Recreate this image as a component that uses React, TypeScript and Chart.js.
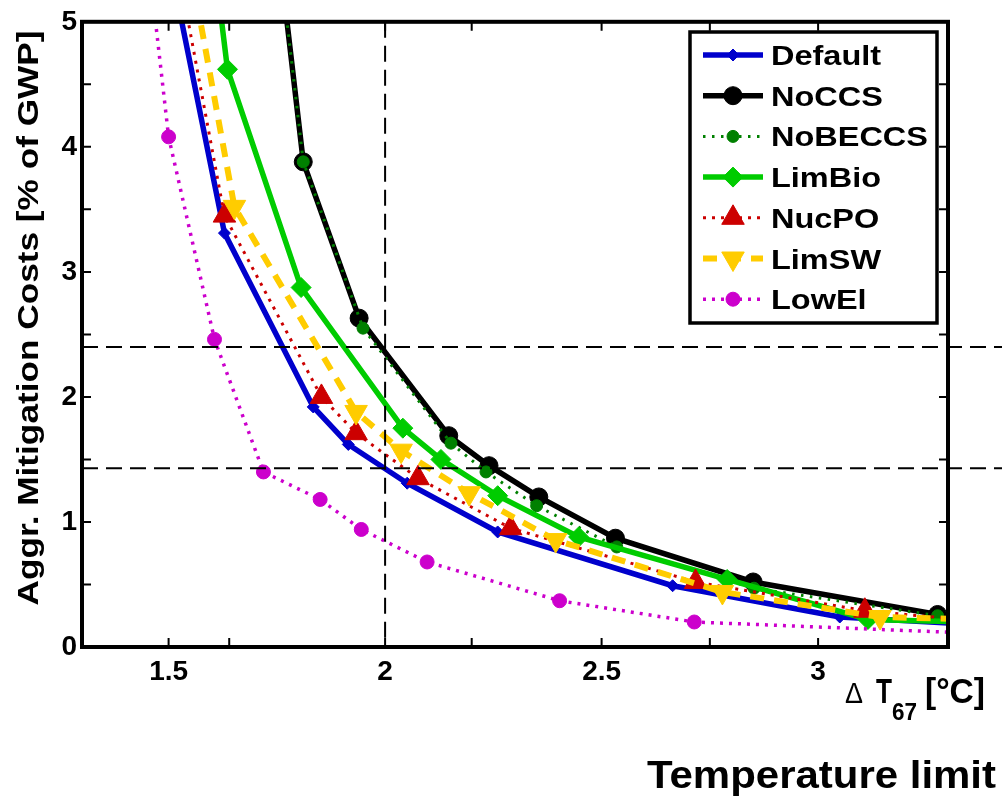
import React, { useEffect, useRef } from "react";
import { Chart, registerables } from "chart.js";
import { drawPoint } from "chart.js/helpers";

Chart.register(...registerables);

// ---------- data (temperature limit ΔT67 [°C] vs aggregated mitigation costs [% of GWP]) ----------
const seriesNames = ["Default", "NoCCS", "NoBECCS", "LimBio", "NucPO", "LimSW", "LowEl"];

const defaultTemp = [1.50, 1.629, 1.834, 1.915, 2.051, 2.26, 2.664, 3.05, 3.36];
const defaultCost = [5.52, 3.31, 1.92, 1.62, 1.31, 0.92, 0.49, 0.24, 0.18];

const noCcsTemp = [1.76, 1.811, 1.94, 2.147, 2.24, 2.355, 2.532, 2.85, 3.276];
const noCcsCost = [5.4, 3.88, 2.63, 1.69, 1.45, 1.2, 0.87, 0.52, 0.26];

const noBeccsTemp = [1.76, 1.811, 1.949, 2.152, 2.233, 2.35, 2.535, 2.852, 3.276];
const noBeccsCost = [5.4, 3.88, 2.55, 1.63, 1.4, 1.13, 0.8, 0.47, 0.25];

const limBioTemp = [1.612, 1.636, 1.806, 2.041, 2.129, 2.26, 2.447, 2.79, 3.115, 3.36];
const limBioCost = [5.3, 4.62, 2.875, 1.75, 1.5, 1.21, 0.88, 0.54, 0.22, 0.2];

const nucPoTemp = [1.505, 1.629, 1.853, 1.933, 2.076, 2.29, 2.717, 3.108, 3.36];
const nucPoCost = [5.75, 3.45, 2.0, 1.71, 1.35, 0.95, 0.52, 0.29, 0.21];

const limSwTemp = [1.555, 1.652, 1.933, 2.037, 2.194, 2.394, 2.779, 3.143, 3.36];
const limSwCost = [5.35, 3.52, 1.88, 1.57, 1.23, 0.855, 0.44, 0.24, 0.22];

const lowElTemp = [1.46, 1.5, 1.606, 1.719, 1.85, 1.945, 2.097, 2.403, 2.714, 3.36];
const lowElCost = [5.3, 4.08, 2.46, 1.4, 1.18, 0.94, 0.68, 0.37, 0.2, 0.11];

const xTickLabels = [1.5, 2, 2.5, 3];
const xTickMarks = [1.5, 1.64, 2, 2.2, 2.5, 2.75, 3];
const yTickLabels = [0, 1, 2, 3, 4, 5];
const yTickMarks = [0, 0.5, 1, 1.5, 2, 2.5, 3, 3.5, 4, 4.5, 5];

const refTemps = [2];
const refCosts = [2.4, 1.43];

// ---------- styles ----------
const styles = [
  { color: "#0000cc", width: 5.5, dash: [] as number[], point: "rectRot", radius: 6, rotation: 0 },
  { color: "#000000", width: 5.5, dash: [], point: "circle", radius: 9, rotation: 0 },
  { color: "#008000", width: 3, dash: [2.5, 6.5], point: "circle", radius: 6, rotation: 0 },
  { color: "#00cc00", width: 5.5, dash: [], point: "rectRot", radius: 10, rotation: 0 },
  { color: "#cc0000", width: 3, dash: [3, 6], point: "triangle", radius: 13, rotation: 0 },
  { color: "#ffcc00", width: 6, dash: [14, 10], point: "triangle", radius: 13, rotation: 180 },
  { color: "#cc00cc", width: 3.5, dash: [3, 6], point: "circle", radius: 7, rotation: 0 },
];

const seriesTemps = [defaultTemp, noCcsTemp, noBeccsTemp, limBioTemp, nucPoTemp, limSwTemp, lowElTemp];
const seriesCosts = [defaultCost, noCcsCost, noBeccsCost, limBioCost, nucPoCost, limSwCost, lowElCost];

const FONT = '"Liberation Sans", Arial, sans-serif';

function drawText(
  ctx: CanvasRenderingContext2D,
  text: string,
  x: number,
  y: number,
  font: string,
  opts: { width?: number; stretch?: number; align?: CanvasTextAlign } = {}
) {
  ctx.save();
  ctx.font = font;
  const w = ctx.measureText(text).width;
  const s = opts.width ? opts.width / w : opts.stretch || 1;
  ctx.translate(x, y);
  ctx.scale(s, 1);
  ctx.textAlign = opts.align || "left";
  ctx.textBaseline = "alphabetic";
  ctx.fillStyle = "#000";
  ctx.fillText(text, 0, 0);
  ctx.restore();
}

const framePlugin = {
  id: "frame",
  afterDatasetsDraw(chart: any) {
    const { ctx, chartArea: a, scales } = chart;
    const x = scales.x;
    const y = scales.y;
    ctx.save();
    // reference dashed lines
    ctx.strokeStyle = "#000";
    ctx.lineWidth = 2;
    ctx.setLineDash([16, 8]);
    refTemps.forEach((t) => {
      const px = x.getPixelForValue(t);
      ctx.beginPath();
      ctx.moveTo(px, a.top);
      ctx.lineTo(px, a.bottom);
      ctx.stroke();
    });
    refCosts.forEach((c) => {
      const py = y.getPixelForValue(c);
      ctx.beginPath();
      ctx.moveTo(a.left, py);
      ctx.lineTo(chart.width, py);
      ctx.stroke();
    });
    ctx.setLineDash([]);
    // inward tick marks
    const tl = 9;
    ctx.lineWidth = 2;
    xTickMarks.forEach((t) => {
      const px = x.getPixelForValue(t);
      ctx.beginPath();
      ctx.moveTo(px, a.bottom);
      ctx.lineTo(px, a.bottom - tl);
      ctx.moveTo(px, a.top);
      ctx.lineTo(px, a.top + tl);
      ctx.stroke();
    });
    yTickMarks.forEach((v) => {
      const py = y.getPixelForValue(v);
      ctx.beginPath();
      ctx.moveTo(a.left, py);
      ctx.lineTo(a.left + tl, py);
      ctx.moveTo(a.right, py);
      ctx.lineTo(a.right - tl, py);
      ctx.stroke();
    });
    // box
    ctx.lineWidth = 4;
    ctx.strokeRect(a.left, a.top, a.right - a.left, a.bottom - a.top);
    ctx.restore();
  },
  afterDraw(chart: any) {
    const { ctx } = chart;
    ctx.save();
    // legend box
    const lx = 690, ly = 32, lw = 247, lh = 291;
    ctx.fillStyle = "#fff";
    ctx.fillRect(lx, ly, lw, lh);
    ctx.strokeStyle = "#000";
    ctx.lineWidth = 3.5;
    ctx.strokeRect(lx, ly, lw, lh);
    const rowStart = 55;
    const rowStep = 40.7;
    chart.data.datasets.forEach((ds: any, i: number) => {
      const ry = rowStart + i * rowStep;
      ctx.save();
      ctx.strokeStyle = ds.borderColor;
      ctx.lineWidth = ds.borderWidth;
      ctx.setLineDash(ds.borderDash || []);
      ctx.beginPath();
      ctx.moveTo(703, ry);
      ctx.lineTo(763, ry);
      ctx.stroke();
      ctx.setLineDash([]);
      ctx.fillStyle = ds.pointBackgroundColor;
      ctx.strokeStyle = ds.pointBorderColor;
      ctx.lineWidth = 1;
      drawPoint(
        ctx,
        { pointStyle: ds.pointStyle, rotation: ds.pointRotation || 0, radius: ds.pointRadius, borderWidth: 1 },
        733,
        ry
      );
      ctx.restore();
      drawText(ctx, ds.label, 771, ry + 10, `bold 28px ${FONT}`, { stretch: 1.16 });
    });
    // y axis title
    ctx.save();
    ctx.translate(38, 318);
    ctx.rotate(-Math.PI / 2);
    drawText(ctx, "Aggr. Mitigation Costs [% of GWP]", 0, 0, `bold 29px ${FONT}`, { width: 575, align: "center" });
    ctx.restore();
    // x axis label
    drawText(ctx, "Δ", 845, 703, `30px ${FONT}`, { width: 18 });
    drawText(ctx, "T", 876, 703, `bold 35px ${FONT}`, { width: 16 });
    drawText(ctx, "67", 892, 720, `bold 24px ${FONT}`, { width: 25 });
    drawText(ctx, "[°C]", 925, 703, `bold 35px ${FONT}`, { width: 60 });
    drawText(ctx, "Temperature limit", 996, 788, `bold 39px ${FONT}`, { width: 349, align: "right" });
    ctx.restore();
  },
};

export default function App() {
  const ref = useRef<HTMLCanvasElement>(null);
  useEffect(() => {
    const datasets = seriesNames.map((name, i) => {
      const st = styles[i];
      return {
        label: name,
        data: seriesTemps[i].map((t, k) => ({ x: t, y: seriesCosts[i][k] })),
        borderColor: st.color,
        backgroundColor: st.color,
        borderWidth: st.width,
        borderDash: st.dash,
        pointStyle: st.point,
        pointRadius: st.radius,
        pointRotation: st.rotation,
        pointBackgroundColor: st.color,
        pointBorderColor: st.color,
        pointBorderWidth: 1,
        tension: 0,
        fill: false,
        clip: 0,
        order: 10 - i,
      };
    });
    const tickFont = { family: FONT, size: 28, weight: "bold" as const };
    const chart = new Chart(ref.current as HTMLCanvasElement, {
      type: "line",
      data: { datasets } as any,
      plugins: [framePlugin as any],
      options: {
        responsive: false,
        animation: false,
        devicePixelRatio: 1,
        layout: { padding: { top: 21, right: 54, left: 0, bottom: 0 } },
        plugins: { legend: { display: false }, tooltip: { enabled: false }, title: { display: false } },
        scales: {
          x: {
            type: "linear",
            min: 1.3,
            max: 3.3,
            grid: { display: false, drawTicks: false },
            border: { display: false },
            afterBuildTicks: (s: any) => {
              s.ticks = xTickLabels.map((v) => ({ value: v }));
            },
            afterFit: (s: any) => {
              s.height = 151;
            },
            ticks: {
              font: tickFont,
              color: "#000",
              padding: 8,
              maxRotation: 0,
              autoSkip: false,
              callback: (v: any) => String(v),
            },
          },
          y: {
            type: "linear",
            min: 0,
            max: 5,
            grid: { display: false, drawTicks: false },
            border: { display: false },
            afterBuildTicks: (s: any) => {
              s.ticks = yTickLabels.map((v) => ({ value: v }));
            },
            afterFit: (s: any) => {
              s.width = 82;
            },
            ticks: {
              font: tickFont,
              color: "#000",
              padding: 5,
              autoSkip: false,
              callback: (v: any) => String(v),
            },
          },
        },
      } as any,
    });
    return () => chart.destroy();
  }, []);
  return (
    <div style={{ position: "absolute", left: 0, top: 0, width: 1002, height: 798, background: "#fff" }}>
      <canvas ref={ref} width={1002} height={798} style={{ display: "block", width: 1002, height: 798 }} />
    </div>
  );
}
